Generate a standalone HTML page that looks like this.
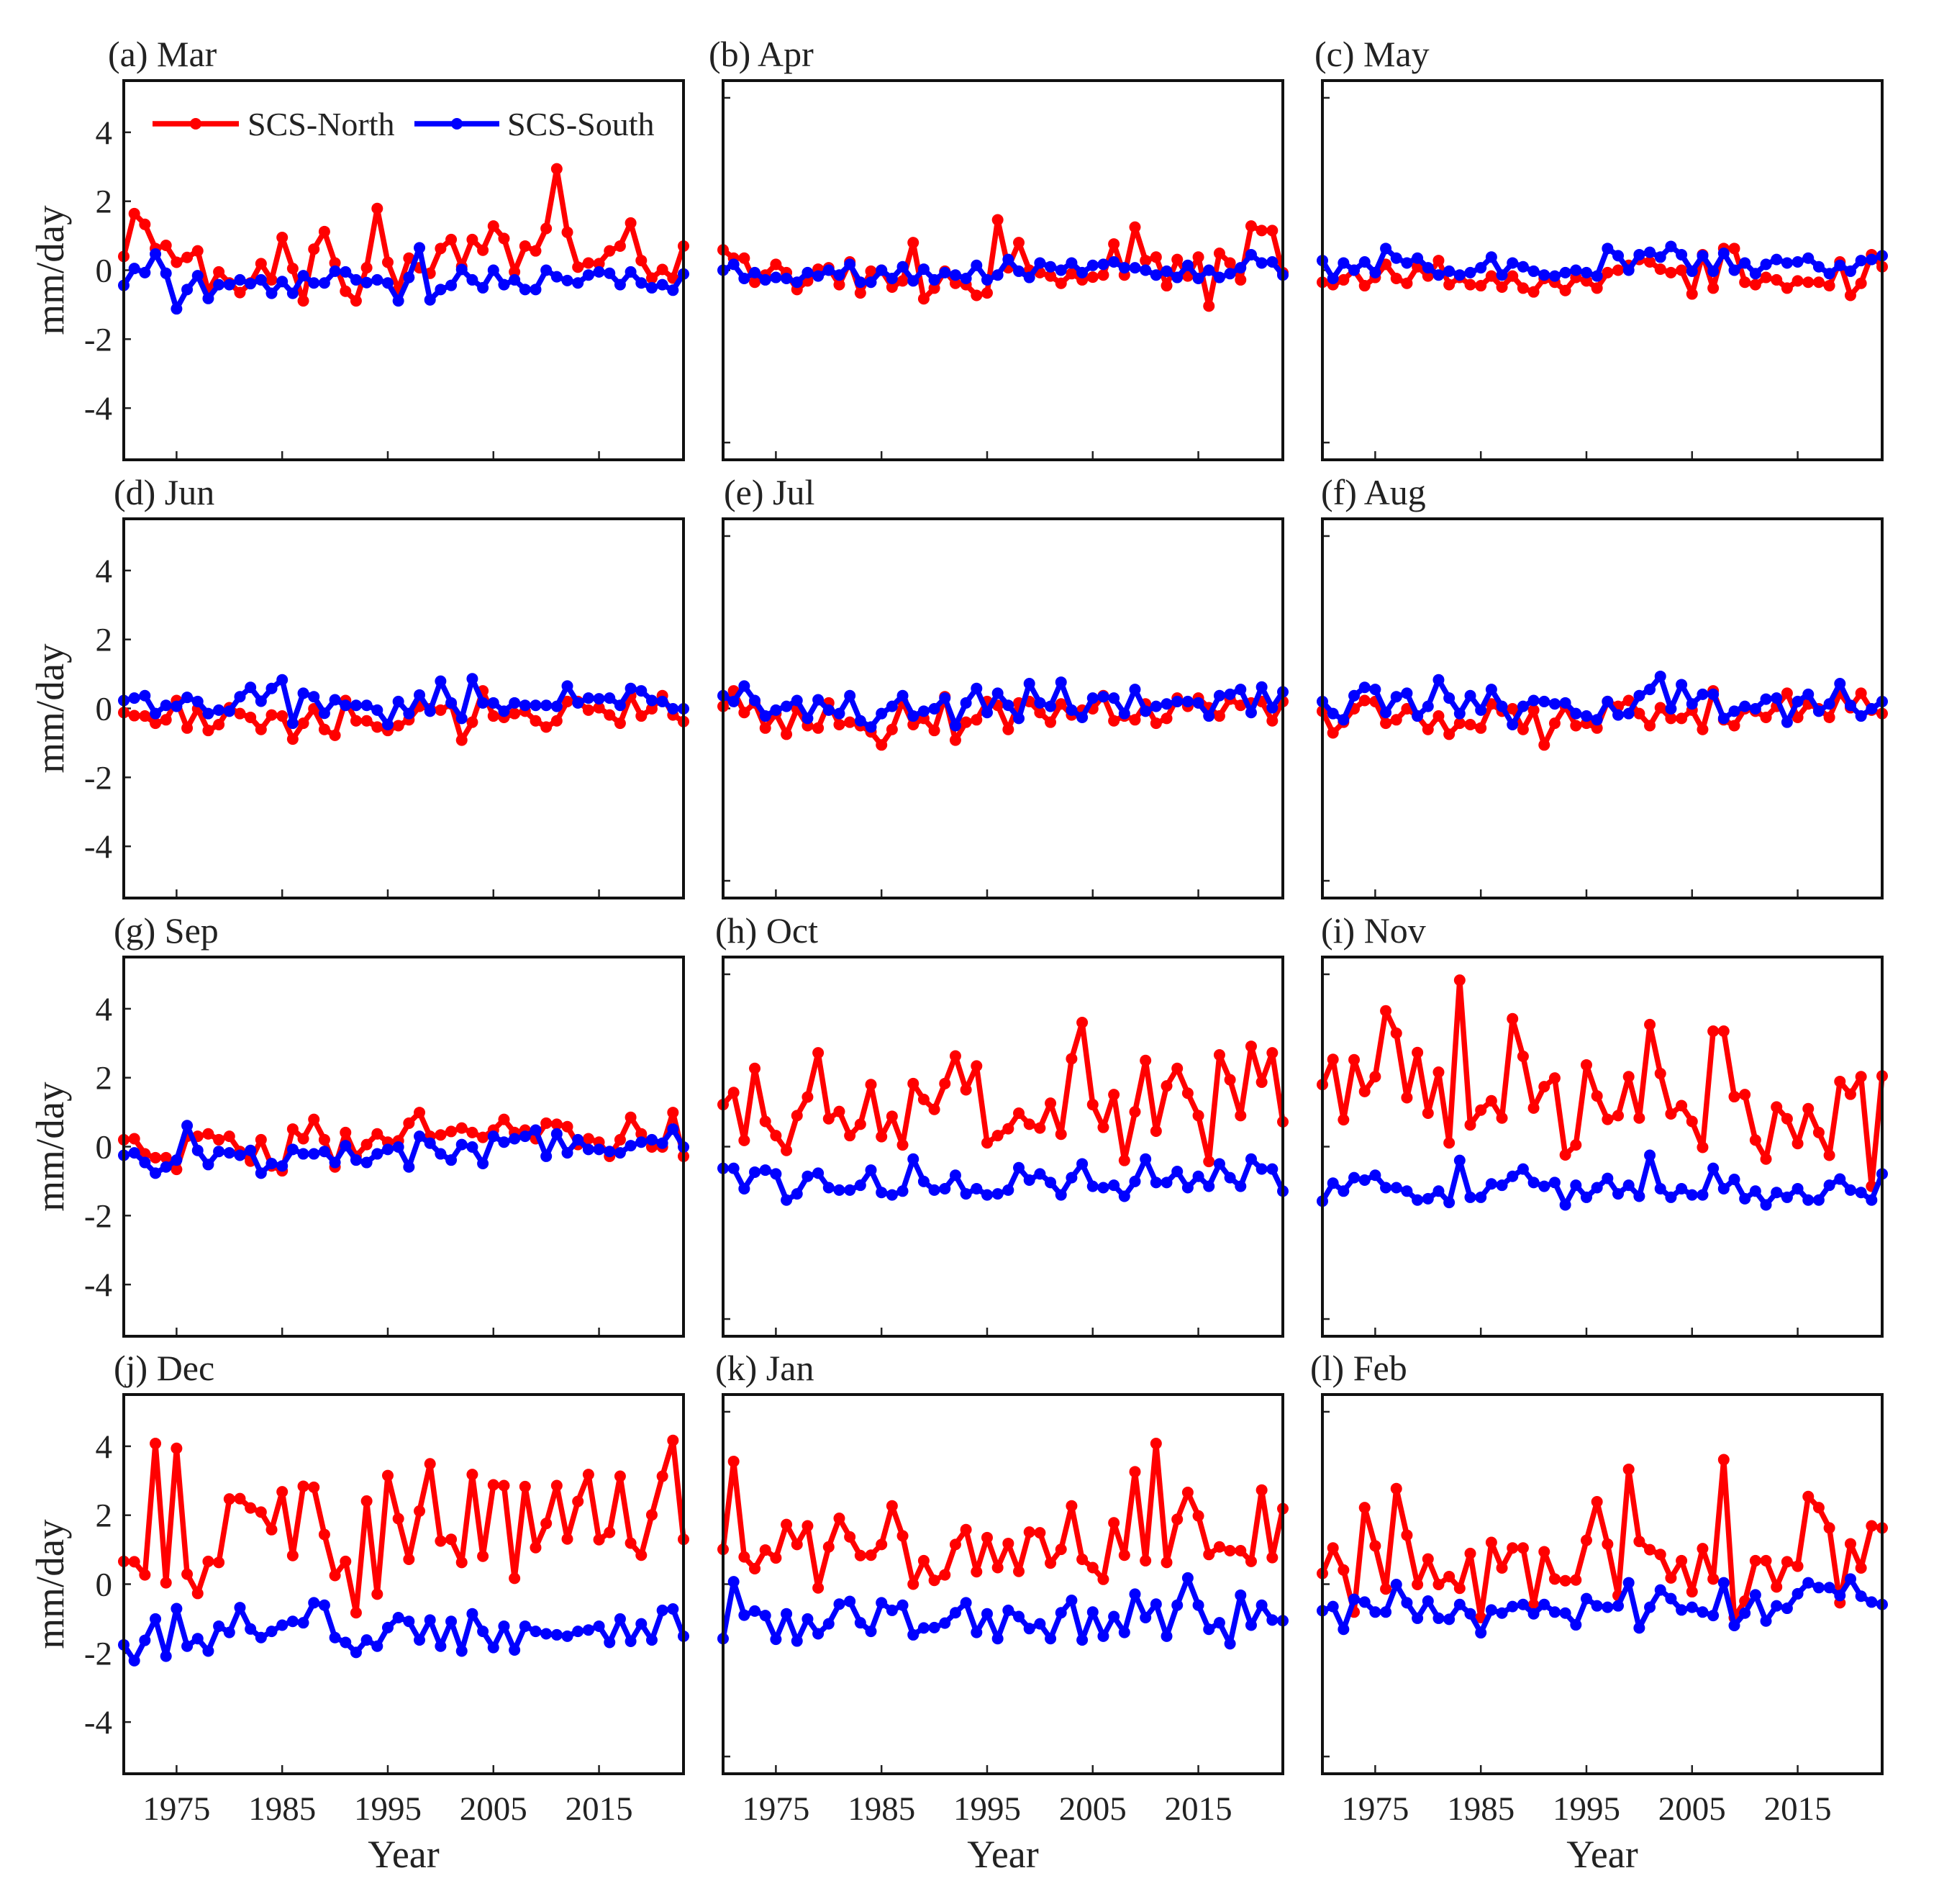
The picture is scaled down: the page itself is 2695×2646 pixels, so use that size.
<!DOCTYPE html>
<html><head><meta charset="utf-8"><style>
html,body{margin:0;padding:0;background:#fff}
svg{display:block}
text{font-family:"Liberation Serif",serif;fill:#222}
</style></head><body>
<svg id="fig" width="2695" height="2646" viewBox="0 0 2695 2646" xmlns="http://www.w3.org/2000/svg"></svg>
<script>
const panelTitles = ["(a) Mar","(b) Apr","(c) May","(d) Jun","(e) Jul","(f) Aug","(g) Sep","(h) Oct","(i) Nov","(j) Dec","(k) Jan","(l) Feb"];
const xTickLabels = [1975,1985,1995,2005,2015];
const yTickLabels = [-4,-2,0,2,4];
const yTicksUnlabeled = [-5,0,5];
const startYear = 1970, endYear = 2023;

const marN=[0.40,1.64,1.33,0.63,0.72,0.23,0.37,0.56,-0.61,-0.05,-0.37,-0.65,-0.37,0.19,-0.28,0.95,0.05,-0.89,0.61,1.12,0.21,-0.61,-0.89,0.07,1.79,0.23,-0.56,0.35,0.07,-0.09,0.63,0.89,0.11,0.89,0.58,1.28,0.92,-0.05,0.70,0.56,1.21,2.94,1.10,0.09,0.21,0.19,0.56,0.70,1.37,0.28,-0.23,0.02,-0.23,0.70];
const marS=[-0.44,0.05,-0.07,0.47,-0.09,-1.12,-0.56,-0.16,-0.82,-0.42,-0.42,-0.28,-0.39,-0.28,-0.67,-0.33,-0.67,-0.16,-0.37,-0.37,-0.03,-0.05,-0.28,-0.36,-0.28,-0.37,-0.89,-0.21,0.65,-0.86,-0.56,-0.44,0.02,-0.28,-0.51,0.00,-0.42,-0.28,-0.56,-0.56,0.00,-0.19,-0.30,-0.37,-0.14,-0.05,-0.09,-0.42,-0.05,-0.37,-0.51,-0.42,-0.58,-0.11];
const aprN=[0.59,0.35,0.35,-0.35,-0.14,0.17,-0.07,-0.56,-0.31,0.03,0.07,-0.42,0.24,-0.66,-0.03,0.00,-0.49,-0.31,0.80,-0.83,-0.52,-0.03,-0.38,-0.42,-0.73,-0.66,1.46,0.07,0.80,0.00,-0.07,-0.17,-0.38,-0.10,-0.28,-0.2,-0.14,0.76,-0.14,1.25,0.28,0.38,-0.45,0.31,-0.17,0.38,-1.04,0.49,0.21,-0.28,1.28,1.15,1.15,-0.07];
const aprS=[0,0.17,-0.24,-0.07,-0.28,-0.21,-0.24,-0.35,-0.07,-0.17,0,-0.14,0.17,-0.35,-0.35,0,-0.24,0.10,-0.31,0.03,-0.28,-0.07,-0.14,-0.24,0.14,-0.28,-0.14,0.31,-0.03,-0.21,0.21,0.10,0,0.21,-0.07,0.14,0.17,0.24,0.07,0.07,0,-0.14,-0.03,-0.21,0.14,-0.24,0,-0.21,-0.10,0.07,0.45,0.21,0.24,-0.14];
const mayN=[-0.35,-0.42,-0.28,0,-0.45,-0.21,0.17,-0.24,-0.38,0.10,-0.17,0.28,-0.42,-0.21,-0.42,-0.45,-0.17,-0.49,-0.17,-0.52,-0.63,-0.24,-0.35,-0.59,-0.21,-0.31,-0.52,-0.07,0,0.14,0.31,0.24,0.03,-0.07,0,-0.69,0.45,-0.52,0.63,0.63,-0.35,-0.42,-0.21,-0.28,-0.52,-0.31,-0.35,-0.35,-0.45,0.24,-0.73,-0.38,0.45,0.10];
const mayS=[0.28,-0.24,0.21,0,0.24,-0.07,0.63,0.35,0.21,0.35,0.07,-0.14,-0.03,-0.14,-0.07,0.07,0.38,-0.14,0.21,0.10,-0.03,-0.14,-0.17,-0.07,0,-0.07,-0.17,0.63,0.42,0,0.45,0.52,0.38,0.69,0.45,-0.03,0.42,-0.03,0.49,0,0.21,-0.10,0.17,0.31,0.21,0.24,0.35,0.10,-0.10,0.14,-0.03,0.28,0.31,0.42];
const junN=[-0.12,-0.21,-0.22,-0.43,-0.33,0.23,-0.57,-0.01,-0.64,-0.47,0.02,-0.15,-0.26,-0.61,-0.19,-0.22,-0.89,-0.43,-0.01,-0.61,-0.78,0.23,-0.36,-0.36,-0.54,-0.64,-0.50,-0.33,0.06,-0.01,-0.05,0.13,-0.92,-0.40,0.51,-0.22,-0.26,-0.15,-0.08,-0.36,-0.54,-0.36,0.20,0.20,-0.05,0.02,-0.19,-0.43,0.37,-0.22,-0.01,0.37,-0.19,-0.38];
const junS=[0.23,0.30,0.37,-0.15,0.09,0.06,0.32,0.20,-0.15,-0.05,-0.08,0.34,0.61,0.21,0.58,0.83,-0.43,0.44,0.34,-0.14,0.25,0.09,0.09,0.09,-0.05,-0.47,0.20,-0.15,0.39,-0.08,0.79,0.16,-0.29,0.86,0.16,0.16,-0.08,0.16,0.09,0.09,0.09,0.06,0.65,0.16,0.30,0.28,0.30,0.09,0.58,0.51,0.23,0.20,-0.01,-0.01];
const julN=[0.06,0.51,-0.12,0.16,-0.57,-0.15,-0.75,-0.01,-0.50,-0.57,0.16,-0.47,-0.40,-0.50,-0.68,-1.06,-0.61,0.20,-0.47,-0.29,-0.64,0.34,-0.92,-0.40,-0.33,0.20,0.09,-0.61,0.16,0.20,-0.12,-0.40,0.13,-0.19,-0.05,-0.01,0.37,-0.36,-0.22,-0.33,0.13,-0.43,-0.29,0.30,0.06,0.30,0.02,-0.22,0.27,0.09,0.16,0.20,-0.36,0.20];
const julS=[0.37,0.20,0.65,0.23,-0.22,-0.05,0.06,0.23,-0.29,0.25,-0.05,-0.15,0.37,-0.36,-0.54,-0.15,0.06,0.37,-0.22,-0.08,-0.01,0.30,-0.50,0.16,0.58,-0.12,0.44,0.09,-0.29,0.72,0.16,0.06,0.76,-0.05,-0.26,0.30,0.34,0.30,-0.15,0.55,-0.08,0.06,0.13,0.20,0.20,0.16,-0.22,0.37,0.41,0.55,-0.12,0.62,0.02,0.48];
const augN=[-0.08,-0.71,-0.40,-0.01,0.23,0.20,-0.43,-0.33,-0.01,-0.22,-0.61,-0.22,-0.75,-0.43,-0.47,-0.57,0.13,-0.08,-0.01,-0.61,-0.05,-1.06,-0.43,0.06,-0.50,-0.43,-0.57,0.20,0.06,0.23,-0.15,-0.50,0.02,-0.29,-0.29,-0.05,-0.61,0.51,-0.33,-0.50,-0.01,-0.08,-0.26,0.06,0.44,-0.26,0.13,-0.01,-0.26,0.44,0.02,0.44,-0.05,-0.15];
const augS=[0.20,-0.15,-0.33,0.37,0.61,0.55,-0.12,0.34,0.44,-0.22,0.06,0.83,0.30,-0.15,0.37,-0.05,0.55,0.06,-0.47,0.06,0.23,0.20,0.13,0.16,-0.15,-0.22,-0.33,0.20,-0.19,-0.15,0.37,0.55,0.93,-0.01,0.69,0.13,0.41,0.41,-0.29,-0.08,0.06,-0.01,0.27,0.30,-0.40,0.20,0.41,-0.08,0.13,0.72,0.09,-0.22,-0.01,0.20];
const sepN=[0.20,0.23,-0.21,-0.32,-0.32,-0.66,0.30,0.30,0.37,0.20,0.30,-0.14,-0.42,0.20,-0.56,-0.70,0.51,0.23,0.79,0.20,-0.59,0.41,-0.28,0.06,0.37,0.13,0.17,0.68,0.99,0.30,0.34,0.44,0.54,0.41,0.27,0.48,0.79,0.41,0.48,0.23,0.68,0.65,0.58,0.06,0.23,0.13,-0.28,0.20,0.85,0.37,-0.01,-0.01,0.99,-0.28];
const sepS=[-0.25,-0.18,-0.46,-0.77,-0.59,-0.39,0.61,-0.11,-0.52,-0.14,-0.18,-0.25,-0.11,-0.77,-0.49,-0.56,-0.08,-0.21,-0.21,-0.14,-0.46,0.03,-0.39,-0.46,-0.21,-0.08,-0.01,-0.59,0.30,0.10,-0.21,-0.39,0.06,-0.01,-0.49,0.30,0.13,0.23,0.30,0.48,-0.28,0.37,-0.18,0.20,-0.08,-0.08,-0.14,-0.18,0.03,0.13,0.20,0.10,0.51,-0.01];
const octN=[1.22,1.57,0.18,2.27,0.73,0.32,-0.11,0.90,1.44,2.72,0.81,1.02,0.32,0.65,1.80,0.29,0.88,0.05,1.83,1.37,1.08,1.83,2.63,1.65,2.34,0.11,0.32,0.52,0.97,0.65,0.54,1.26,0.36,2.55,3.60,1.22,0.56,1.51,-0.40,1.01,2.50,0.45,1.76,2.27,1.55,0.90,-0.43,2.66,1.94,0.90,2.91,1.87,2.72,0.72];
const octS=[-0.63,-0.63,-1.22,-0.74,-0.68,-0.79,-1.55,-1.37,-0.86,-0.77,-1.19,-1.26,-1.26,-1.12,-0.68,-1.33,-1.40,-1.29,-0.36,-1.01,-1.26,-1.22,-0.83,-1.37,-1.22,-1.40,-1.37,-1.26,-0.61,-0.97,-0.79,-1.04,-1.40,-0.90,-0.50,-1.15,-1.19,-1.12,-1.44,-1.01,-0.36,-1.04,-1.04,-0.72,-1.19,-0.86,-1.15,-0.50,-0.90,-1.15,-0.36,-0.65,-0.65,-1.29];
const novN=[1.80,2.53,0.78,2.52,1.60,2.03,3.94,3.29,1.42,2.73,0.97,2.16,0.11,4.83,0.63,1.06,1.33,0.83,3.71,2.62,1.12,1.74,1.99,-0.24,0.05,2.37,1.47,0.79,0.90,2.03,0.83,3.54,2.12,0.95,1.19,0.73,-0.02,3.35,3.35,1.45,1.51,0.19,-0.36,1.15,0.81,0.09,1.10,0.41,-0.25,1.89,1.52,2.03,-1.15,2.05];
const novS=[-1.58,-1.06,-1.29,-0.90,-0.97,-0.83,-1.19,-1.19,-1.29,-1.55,-1.51,-1.29,-1.62,-0.40,-1.47,-1.47,-1.08,-1.12,-0.86,-0.65,-1.04,-1.15,-1.04,-1.69,-1.12,-1.47,-1.19,-0.92,-1.37,-1.12,-1.44,-0.25,-1.22,-1.47,-1.22,-1.40,-1.40,-0.63,-1.22,-0.95,-1.51,-1.29,-1.69,-1.33,-1.47,-1.22,-1.55,-1.55,-1.12,-0.94,-1.26,-1.33,-1.55,-0.79];
const decN=[0.66,0.65,0.27,4.08,0.04,3.94,0.29,-0.27,0.66,0.63,2.47,2.48,2.21,2.09,1.58,2.68,0.83,2.84,2.81,1.44,0.25,0.66,-0.83,2.41,-0.29,3.15,1.90,0.72,2.12,3.49,1.25,1.30,0.63,3.18,0.81,2.88,2.86,0.17,2.83,1.06,1.76,2.86,1.31,2.40,3.18,1.29,1.50,3.13,1.19,0.84,2.01,3.13,4.17,1.30];
const decS=[-1.76,-2.22,-1.63,-1.01,-2.09,-0.71,-1.80,-1.58,-1.94,-1.22,-1.40,-0.68,-1.30,-1.55,-1.37,-1.19,-1.08,-1.12,-0.54,-0.61,-1.55,-1.69,-1.98,-1.62,-1.80,-1.26,-0.97,-1.08,-1.62,-1.04,-1.80,-1.08,-1.94,-0.86,-1.37,-1.84,-1.22,-1.91,-1.22,-1.37,-1.44,-1.47,-1.51,-1.37,-1.33,-1.22,-1.69,-1.01,-1.66,-1.15,-1.62,-0.76,-0.72,-1.51];
const janN=[1.01,3.56,0.79,0.45,0.99,0.76,1.73,1.15,1.69,-0.11,1.08,1.91,1.37,0.83,0.84,1.15,2.27,1.40,0.00,0.68,0.11,0.27,1.15,1.58,0.36,1.35,0.48,1.18,0.37,1.51,1.49,0.61,1.01,2.27,0.72,0.48,0.14,1.78,0.84,3.26,0.68,4.08,0.63,1.88,2.66,1.98,0.86,1.08,0.97,0.97,0.66,2.73,0.77,2.19];
const janS=[-1.58,0.07,-0.90,-0.78,-0.91,-1.60,-0.86,-1.65,-1.01,-1.44,-1.15,-0.58,-0.50,-1.12,-1.37,-0.54,-0.76,-0.61,-1.47,-1.27,-1.26,-1.13,-0.83,-0.54,-1.40,-0.86,-1.58,-0.76,-0.94,-1.29,-1.15,-1.58,-0.83,-0.47,-1.62,-0.81,-1.51,-0.94,-1.40,-0.29,-0.97,-0.58,-1.51,-0.61,0.18,-0.61,-1.31,-1.12,-1.73,-0.32,-1.19,-0.61,-1.04,-1.06];
const febN=[0.31,1.05,0.41,-0.81,2.22,1.11,-0.14,2.77,1.42,-0.01,0.73,-0.01,0.22,-0.12,0.89,-0.97,1.21,0.47,1.05,1.05,-0.6,0.94,0.15,0.10,0.12,1.27,2.39,1.16,-0.33,3.33,1.24,1.00,0.86,0.18,0.68,-0.22,1.03,0.15,3.61,-0.97,-0.49,0.68,0.68,-0.08,0.65,0.52,2.54,2.22,1.63,-0.54,1.17,0.47,1.69,1.63];
const febS=[-0.77,-0.65,-1.31,-0.44,-0.52,-0.81,-0.81,-0.01,-0.54,-0.99,-0.49,-0.99,-1.02,-0.59,-0.86,-1.41,-0.75,-0.84,-0.65,-0.59,-0.86,-0.59,-0.81,-0.84,-1.18,-0.42,-0.63,-0.67,-0.63,0.04,-1.27,-0.67,-0.17,-0.42,-0.75,-0.67,-0.81,-0.91,0.04,-1.20,-0.84,-0.31,-1.07,-0.63,-0.70,-0.28,0.04,-0.10,-0.10,-0.33,0.15,-0.35,-0.52,-0.59];

const northSeries=[marN,aprN,mayN,junN,julN,augN,sepN,octN,novN,decN,janN,febN];
const southSeries=[marS,aprS,mayS,junS,julS,augS,sepS,octS,novS,decS,janS,febS];

const NS="http://www.w3.org/2000/svg";
const svg=document.getElementById('fig');
function mk(tag,attrs,parent){const e=document.createElementNS(NS,tag);for(const k in attrs)e.setAttribute(k,attrs[k]);(parent||svg).appendChild(e);return e;}
const colX=[172,1005,1838], rowY=[112,721,1330,1938], PW=778, PH=527, YMIN=-5.5, YMAX=5.5;
const titleX=[150,985,1827,158,1006,1836,158,994,1836,158,994,1821];

for(let p=0;p<12;p++){
  const r=Math.floor(p/3), c=p%3, L=colX[c], T=rowY[r];
  const xs=v=>L+(v-startYear)/(endYear-startYear)*PW;
  const ys=v=>T+(YMAX-v)/(YMAX-YMIN)*PH;
  const g=mk('g',{});
  
  
  const t=mk('text',{x:titleX[p],y:T-20,'font-size':50},g);
  t.textContent=panelTitles[p];
  
  
  const yt = c===0 ? yTickLabels : yTicksUnlabeled;
  yt.forEach(v=>{
    const tk=mk('line',{x1:L,x2:L+10,y1:ys(v),y2:ys(v),stroke:'#222','stroke-width':2.5},g);
    
    
    if(c===0){
      const lb=mk('text',{x:L-16,y:ys(v)+16,'font-size':47,'text-anchor':'end'},g);
      lb.textContent=String(v);
      
      
    }
  });
  xTickLabels.forEach(v=>{
    const tk=mk('line',{x1:xs(v),x2:xs(v),y1:T+PH,y2:T+PH-12,stroke:'#222','stroke-width':2.5},g);
    
    
    if(r===3){
      const lb=mk('text',{x:xs(v),y:T+PH+64,'font-size':47,'text-anchor':'middle'},g);
      lb.textContent=String(v);
      
      
    }
  });
  if(c===0){
    const yl=mk('text',{x:0,y:0,'font-size':55,'text-anchor':'middle',transform:`translate(88,${T+PH/2}) rotate(-90)`},g);
    yl.textContent='mm/day';
    
    
  }
  if(r===3){
    const xl=mk('text',{x:L+PW/2,y:T+PH+130,'font-size':54,'text-anchor':'middle'},g);
    xl.textContent='Year';
    
    
  }
  [[northSeries[p],'#f00','north'],[southSeries[p],'#00f','south']].forEach(([arr,col,nm])=>{
    const pts=arr.map((v,i)=>xs(startYear+i).toFixed(1)+','+ys(v).toFixed(1)).join(' ');
    const pl=mk('polyline',{points:pts,fill:'none',stroke:col,'stroke-width':7.5,'stroke-linejoin':'round'},g);
    
    
    arr.forEach((v,i)=>{
      const m=mk('circle',{cx:xs(startYear+i),cy:ys(v),r:8,fill:col},g);
      
      
    });
  });
  const fr=mk('rect',{x:L,y:T,width:PW,height:PH,fill:'none',stroke:'#111','stroke-width':4},g);
  
  
}
const lg=mk('g',{});


[[212,332,'#f00','SCS-North',344],[576,694,'#00f','SCS-South',705]].forEach(([a,b,col,label,tx])=>{
  const e=mk('g',{},lg);
  
  
  mk('line',{x1:a,x2:b,y1:172,y2:172,stroke:col,'stroke-width':7.5},e);
  mk('circle',{cx:(a+b)/2,cy:172,r:8,fill:col},e);
  const t=mk('text',{x:tx,y:188,'font-size':46},e);
  t.textContent=label;
});
</script>
</body></html>
